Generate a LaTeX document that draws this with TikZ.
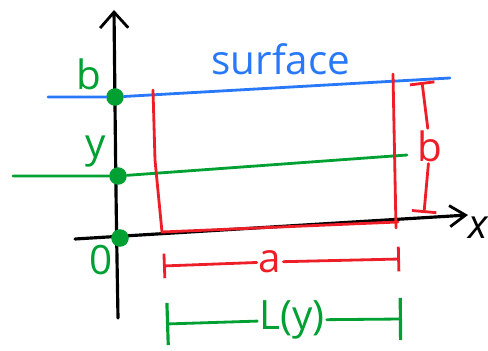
\documentclass[tikz,border=0pt]{standalone}
\usepackage{fontspec}
\setmainfont{Open Sans}
\usepackage{tikz}
\usetikzlibrary{arrows.meta,positioning,calc}
\definecolor{penblue}{RGB}{40,120,250}
\definecolor{pengreen}{RGB}{0,160,50}
\definecolor{penred}{RGB}{238,30,40}

\begin{document}
\begin{tikzpicture}[x=0.02cm, y=-0.02cm, every node/.style={font=\fontsize{23}{26}\selectfont, inner sep=1pt},
        axis/.style={line width=1.8pt, black, line cap=round},
        pen/.style={line width=1.6pt, line cap=round},
        dot/.style={circle, fill=pengreen, inner sep=0pt, minimum size=10pt},
        dimred/.style={pen, penred, -{Bar[width=14pt, line width=1.6pt]}},
        dimgreen/.style={pen, pengreen, -{Bar[width=24pt, line width=1.8pt]}}
      ]
        \useasboundingbox (0,0) rectangle (488,351);

        % Achsen
        \coordinate (yb) at (118,318);
        \coordinate (yt) at (114,10);
        \coordinate (xl) at (75,239);
        \coordinate (xr) at (468,215);
        \draw[axis, -{Straight Barb[length=9pt, width=16pt, line width=1.6pt]}] (yb) .. controls (116,200) .. (yt);
        \draw[axis, -{Straight Barb[length=9pt, width=12pt, line width=1.6pt]}] (xl) -- (xr);
        \node[black, font=\fontsize{23}{26}\itshape] (xlab) at (478,228) {x};

        % Punkte auf der y-Achse
        \node[dot] (pb) at (115,97) {};
        \node[dot] (py) at (118,176) {};
        \node[dot] (p0) at (120,238) {};
        \node[pengreen] (lb) at (89,74) {b};
        \node[pengreen] (ly) at (96,152) {y};
        \node[pengreen] (l0) at (101,260) {0};

        % Oberflaeche (blau) und Hoehe y (gruen)
        \coordinate (sl) at (48,97);
        \coordinate (sr) at (450,78);
        \draw[pen, penblue] (sl) -- (pb) -- (sr);
        \node[penblue] (surf) at (281,59) {surface};
        \coordinate (gl) at (13,176);
        \coordinate (gr) at (407,155);
        \draw[pen, pengreen] (gl) -- (py) -- (gr);

        % Rechteck (rot)
        \coordinate (rtl) at (153,90);
        \coordinate (rbl) at (162,232);
        \coordinate (rbr) at (398,222);
        \coordinate (rtr) at (393,74);
        \coordinate (rbe) at (396,228);
        \draw[pen, penred] (rtl) -- (155,160) -- (rbl) -- (rbr);
        \draw[pen, penred] (rtr) -- (rbe);

        % Bemassung b
        \node[penred] (lbdim) at (430,146) {b};
        \coordinate (bt) at (422,82);
        \coordinate (bb) at (424,213);
        \draw[dimred] (lbdim) -- (bt);
        \draw[dimred] (lbdim) -- (bb);

        % Bemassung a
        \node[penred] (la) at (270,262) {a};
        \coordinate (al) at (163,266);
        \coordinate (ar) at (400,259);
        \draw[dimred] (la) -- (al);
        \draw[dimred] (la) -- (ar);

        % Bemassung L(y)
        \node[pengreen] (lL) at (292,320) {L(y)};
        \coordinate (Ll) at (166,324);
        \coordinate (Lr) at (402,319);
        \draw[dimgreen] (lL) -- (Ll);
        \draw[dimgreen] (lL) -- (Lr);
      \end{tikzpicture}
\end{document}
